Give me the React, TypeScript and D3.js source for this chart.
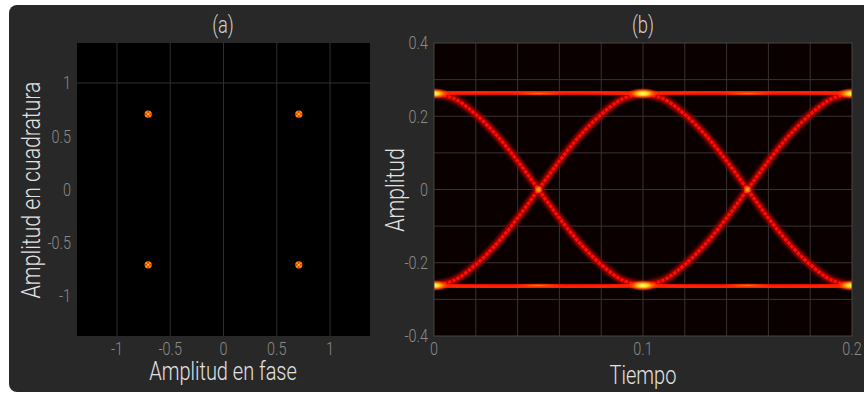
import React from 'react'
import * as d3 from 'd3'

// (a) constellation points
const symI = [-0.707, 0.707, -0.707, 0.707]
const symQ = [0.707, 0.707, -0.707, -0.707]
const constTicks = [-1, -0.5, 0, 0.5, 1]

// (b) eye diagram traces
const tHalf = [0, 0.01, 0.02, 0.03, 0.04, 0.05, 0.06, 0.07, 0.08, 0.09, 0.1]
const fallValues = [0.262, 0.247, 0.205, 0.148, 0.078, 0, -0.078, -0.148, -0.205, -0.247, -0.262]
const tLevel = [0, 0.02, 0.04, 0.05, 0.06, 0.08, 0.1, 0.12, 0.14, 0.15, 0.16, 0.18, 0.2]
const levelHigh = [0.262, 0.265, 0.266, 0.266, 0.266, 0.265, 0.262, 0.265, 0.266, 0.266, 0.266, 0.265, 0.262]
const eyeXTicks = [0, 0.1, 0.2]
const eyeYTicks = [-0.4, -0.2, 0, 0.2, 0.4]
const eyeXGrid = [0.02, 0.04, 0.06, 0.08, 0.1, 0.12, 0.14, 0.16, 0.18]
const eyeYGrid = [-0.3, -0.2, -0.1, 0, 0.1, 0.2, 0.3]
const mergeT = [0, 0.1, 0.2]
const crossT = [0.05, 0.15]

const W = 864
const H = 394
const font = 'Roboto, "Noto Sans", sans-serif'
const tickColor = '#8a8a8a'
const labelColor = '#e2e2e2'
const squeeze = 0.8

const fmt = (v: number) => (v === 0 ? '0' : String(v))

// narrow, light text like the original figure font
function Txt(props: { x: number; y: number; size: number; fill: string; anchor?: string; rotate?: number; dy?: string; children: React.ReactNode }) {
  const { x, y, size, fill, anchor = 'middle', rotate = 0, dy, children } = props
  return (
    <text
      transform={`translate(${x},${y}) rotate(${rotate}) scale(${squeeze},1)`}
      textAnchor={anchor}
      dy={dy}
      fontSize={size}
      fontWeight={300}
      fill={fill}
      fontFamily={font}
    >
      {children}
    </text>
  )
}

function Constellation() {
  const x = d3.scaleLinear().domain([-1.375, 1.375]).range([77, 370])
  const y = d3.scaleLinear().domain([-1.375, 1.375]).range([336, 43])
  return (
    <g>
      <rect x={77} y={43} width={293} height={293} fill="#000" />
      {constTicks.map(t => (
        <line key={'gx' + t} x1={x(t)} x2={x(t)} y1={43} y2={336} stroke="#2e2e2e" strokeWidth={1} />
      ))}
      <line x1={77} x2={370} y1={y(1)} y2={y(1)} stroke="#2e2e2e" strokeWidth={1} />
      {symI.map((v, i) => (
        <g key={'p' + i} transform={`translate(${x(v)},${y(symQ[i])})`}>
          <circle r={3.6} fill="#ff8a00" />
          <line x1={-3.4} x2={3.4} y1={0} y2={0} stroke="#e01000" strokeWidth={1} />
          <line x1={0} x2={0} y1={-3.4} y2={3.4} stroke="#e01000" strokeWidth={1} />
          <circle r={1.1} fill="#ffd030" />
        </g>
      ))}
      {constTicks.map(t => (
        <Txt key={'tx' + t} x={x(t)} y={355} size={18} fill={tickColor}>{fmt(t)}</Txt>
      ))}
      {constTicks.map(t => (
        <Txt key={'ty' + t} x={71} y={y(t)} dy="0.35em" anchor="end" size={18} fill={tickColor}>{fmt(t)}</Txt>
      ))}
      <Txt x={223} y={33} size={23} fill="#d0d0d0">(a)</Txt>
      <Txt x={223} y={380} size={25} fill={labelColor}>Amplitud en fase</Txt>
      <Txt x={40} y={190} rotate={-90} size={26.5} fill={labelColor}>Amplitud en cuadratura</Txt>
    </g>
  )
}

function Eye() {
  const x0 = 434, x1 = 852, y0 = 43, y1 = 336
  const x = d3.scaleLinear().domain([0, 0.2]).range([x0, x1])
  const y = d3.scaleLinear().domain([-0.4, 0.4]).range([y1, y0])
  const line = d3.line<[number, number]>().x(d => x(d[0])).y(d => y(d[1])).curve(d3.curveCatmullRom)

  const transitions: [number, number][][] = []
  ;[0, 0.1].forEach(off => {
    transitions.push(tHalf.map((t, i) => [t + off, fallValues[i]]))
    transitions.push(tHalf.map((t, i) => [t + off, -fallValues[i]]))
  })
  const levels: [number, number][][] = [
    tLevel.map((t, i) => [t, levelHigh[i]]),
    tLevel.map((t, i) => [t, -levelHigh[i]]),
  ]
  const L = levelHigh[0]

  return (
    <g>
      <defs>
        <clipPath id="eyeClip"><rect x={x0} y={y0} width={x1 - x0} height={y1 - y0} /></clipPath>
        <filter id="blurWide" x="-20%" y="-50%" width="140%" height="200%"><feGaussianBlur stdDeviation={2.6} /></filter>
        <filter id="blurMid" x="-20%" y="-50%" width="140%" height="200%"><feGaussianBlur stdDeviation={1.4} /></filter>
        <filter id="blurSoft" x="-20%" y="-50%" width="140%" height="200%"><feGaussianBlur stdDeviation={0.6} /></filter>
        <radialGradient id="hot">
          <stop offset="0%" stopColor="#ffff90" />
          <stop offset="35%" stopColor="#ffd010" />
          <stop offset="70%" stopColor="#ff5000" stopOpacity={0.7} />
          <stop offset="100%" stopColor="#ff2000" stopOpacity={0} />
        </radialGradient>
        <radialGradient id="cross">
          <stop offset="0%" stopColor="#ffd020" />
          <stop offset="60%" stopColor="#ff6000" stopOpacity={0.8} />
          <stop offset="100%" stopColor="#ff2000" stopOpacity={0} />
        </radialGradient>
        <radialGradient id="warm">
          <stop offset="0%" stopColor="#ff9000" stopOpacity={0.85} />
          <stop offset="60%" stopColor="#ff4000" stopOpacity={0.45} />
          <stop offset="100%" stopColor="#ff2000" stopOpacity={0} />
        </radialGradient>
      </defs>
      <rect x={x0} y={y0} width={x1 - x0} height={y1 - y0} fill="#0a0000" />
      {eyeXGrid.map(t => (
        <line key={'gx' + t} x1={x(t)} x2={x(t)} y1={y0} y2={y1} stroke="#383232" strokeWidth={1} />
      ))}
      {eyeYGrid.map(t => (
        <line key={'gy' + t} x1={x0} x2={x1} y1={y(t)} y2={y(t)} stroke="#383232" strokeWidth={1} />
      ))}
      <g clipPath="url(#eyeClip)">
        {levels.map((d, i) => (
          <path key={'lw' + i} d={line(d) || ''} fill="none" stroke="#b00000" strokeWidth={13} filter="url(#blurWide)" />
        ))}
        {transitions.map((d, i) => (
          <path key={'tw' + i} d={line(d) || ''} fill="none" stroke="#a80000" strokeWidth={7.5} filter="url(#blurMid)" />
        ))}
        {levels.map((d, i) => (
          <path key={'lm' + i} d={line(d) || ''} fill="none" stroke="#ee0800" strokeWidth={7} filter="url(#blurMid)" />
        ))}
        {transitions.map((d, i) => (
          <path key={'tc' + i} d={line(d) || ''} fill="none" stroke="#ff0c00" strokeWidth={3.2} strokeDasharray="3.5 1.2" filter="url(#blurSoft)" />
        ))}
        {levels.map((d, i) => (
          <path key={'lc' + i} d={line(d) || ''} fill="none" stroke="#ff2000" strokeWidth={3} filter="url(#blurSoft)" />
        ))}
        {[L, -L].map(v => crossT.map(t => (
          <ellipse key={'w' + v + t} cx={x(t)} cy={y(v)} rx={30} ry={2.4} fill="url(#warm)" />
        )))}
        {[L, -L].map(v => mergeT.map(t => (
          <ellipse key={'h' + v + t} cx={x(t)} cy={y(v)} rx={16} ry={5.5} fill="url(#hot)" />
        )))}
        {crossT.map(t => (
          <ellipse key={'c' + t} cx={x(t)} cy={y(0)} rx={4.5} ry={4.5} fill="url(#cross)" />
        ))}
      </g>
      <rect x={x0} y={y0} width={x1 - x0} height={y1 - y0} fill="none" stroke="#444" strokeWidth={1} />
      {eyeXTicks.map(t => (
        <Txt key={'tx' + t} x={x(t)} y={355} size={18} fill={tickColor}>{fmt(t)}</Txt>
      ))}
      {eyeYTicks.map(t => (
        <Txt key={'ty' + t} x={428} y={y(t)} dy="0.35em" anchor="end" size={18} fill={tickColor}>{fmt(t)}</Txt>
      ))}
      <Txt x={643} y={33} size={23} fill="#d0d0d0">(b)</Txt>
      <Txt x={643} y={384} size={25} fill={labelColor}>Tiempo</Txt>
      <Txt x={404} y={190} rotate={-90} size={26.5} fill={labelColor}>Amplitud</Txt>
    </g>
  )
}

export default function App() {
  return (
    <svg width={W} height={H} style={{ position: 'absolute', left: 0, top: 0, background: '#fff' }}>
      <rect x={9} y={5} width={W - 9 + 10} height={H - 5 - 2} rx={8} fill="#282828" />
      <Constellation />
      <Eye />
    </svg>
  )
}
